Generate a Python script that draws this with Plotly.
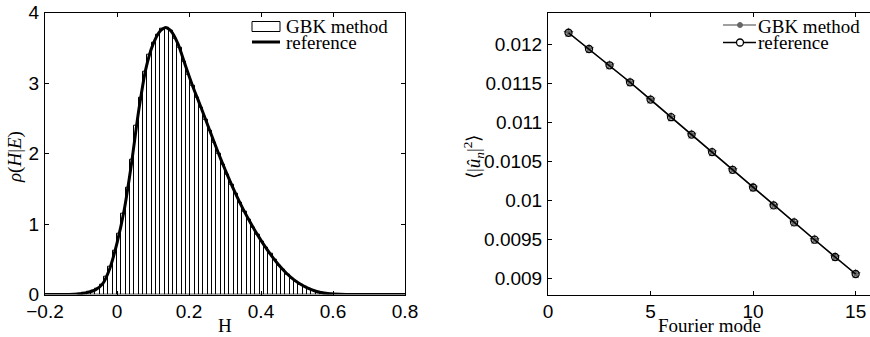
import plotly.graph_objects as go

# ---------- Left panel data ----------
bin_centers = [-0.102, -0.090, -0.078, -0.066, -0.054, -0.042, -0.030, -0.018, -0.006,
               0.006, 0.018, 0.030, 0.042, 0.054, 0.066, 0.078, 0.090, 0.102, 0.114,
               0.126, 0.138, 0.150, 0.162, 0.174, 0.186, 0.198, 0.210, 0.222, 0.234,
               0.246, 0.258, 0.270, 0.282, 0.294, 0.306, 0.318, 0.330, 0.342, 0.354,
               0.366, 0.378, 0.390, 0.402, 0.414, 0.426, 0.438, 0.450, 0.462, 0.474,
               0.486, 0.498, 0.510, 0.522, 0.534, 0.546, 0.558, 0.570, 0.582, 0.594]
bin_width = 0.012
gbk_density = [0.011, 0.02, 0.033, 0.05, 0.085, 0.14, 0.25, 0.40, 0.62,
               0.86, 1.15, 1.52, 1.92, 2.39, 2.80, 3.16, 3.40, 3.57, 3.69,
               3.77, 3.79, 3.74, 3.63, 3.50, 3.31, 3.12, 2.96, 2.80, 2.65,
               2.48, 2.32, 2.16, 2.00, 1.84, 1.70, 1.56, 1.425, 1.30, 1.18,
               1.06, 0.955, 0.85, 0.75, 0.66, 0.575, 0.49, 0.415, 0.35, 0.285,
               0.23, 0.185, 0.145, 0.11, 0.085, 0.06, 0.04, 0.025, 0.015, 0.01]

ref_H = [-0.20, -0.15, -0.12, -0.10, -0.08, -0.06, -0.04, -0.02, 0.00, 0.02, 0.04,
         0.06, 0.08, 0.10, 0.12, 0.135, 0.15, 0.17, 0.19, 0.21, 0.23, 0.25, 0.27,
         0.29, 0.31, 0.33, 0.35, 0.37, 0.39, 0.41, 0.43, 0.45, 0.47, 0.49, 0.51,
         0.53, 0.55, 0.57, 0.59, 0.62, 0.65, 0.80]
ref_density = [0.0, 0.0, 0.004, 0.012, 0.03, 0.065, 0.15, 0.37, 0.73, 1.2, 1.85,
               2.6, 3.2, 3.55, 3.74, 3.79, 3.74, 3.55, 3.25, 2.96, 2.70, 2.43, 2.16,
               1.90, 1.655, 1.425, 1.215, 1.025, 0.85, 0.69, 0.545, 0.415, 0.305,
               0.215, 0.145, 0.09, 0.05, 0.025, 0.01, 0.003, 0.0, 0.0]

# ---------- Right panel data ----------
modes = [1, 2, 3, 4, 5, 6, 7, 8, 9, 10, 11, 12, 13, 14, 15]
gbk_energy = [0.012144, 0.011936, 0.011728, 0.011511, 0.011290, 0.011065, 0.010843,
              0.010619, 0.010393, 0.010167, 0.009938, 0.009721, 0.009500, 0.009279,
              0.009062]
ref_energy = [0.012144, 0.011936, 0.011728, 0.011511, 0.011290, 0.011065, 0.010843,
              0.010619, 0.010393, 0.010167, 0.009938, 0.009721, 0.009500, 0.009279,
              0.009062]

left_xticks = [-0.2, 0, 0.2, 0.4, 0.6, 0.8]
left_yticks = [0, 1, 2, 3, 4]
right_xticks = [0, 5, 10, 15]
right_yticks = [0.009, 0.0095, 0.01, 0.0105, 0.011, 0.0115, 0.012]
right_yticktext = ["0.009", "0.0095", "0.01", "0.0105", "0.011", "0.0115", "0.012"]

W, H = 870, 337
SERIF = "Liberation Serif"
SANS = "Liberation Sans"

fig = go.Figure()

fig.add_trace(go.Bar(
    x=bin_centers, y=gbk_density, width=bin_width,
    marker=dict(color="white", line=dict(color="black", width=1)),
    xaxis="x", yaxis="y", showlegend=False, name="GBK method"))
fig.add_trace(go.Scatter(
    x=ref_H, y=ref_density, mode="lines",
    line=dict(color="black", width=3, shape="spline", smoothing=0.6),
    xaxis="x", yaxis="y", showlegend=False, name="reference"))

fig.add_trace(go.Scatter(
    x=modes, y=gbk_energy, mode="lines+markers",
    line=dict(color="#808080", width=1.5),
    marker=dict(symbol="star", size=8, color="#666666"),
    xaxis="x2", yaxis="y2", showlegend=False, name="GBK method"))
fig.add_trace(go.Scatter(
    x=modes, y=ref_energy, mode="lines+markers",
    line=dict(color="black", width=1.5),
    marker=dict(symbol="circle-open", size=7, color="black", line=dict(width=1.3)),
    xaxis="x2", yaxis="y2", showlegend=False, name="reference"))

ydom = [1 - 294.5 / H, 1 - 12.7 / H]
axis_common = dict(showline=True, linecolor="black", linewidth=1, ticks="inside",
                   ticklen=4, tickcolor="black", showgrid=False, zeroline=False,
                   automargin=False,
                   tickfont=dict(family=SANS, size=19, color="black"))

fig.update_layout(
    width=W, height=H, margin=dict(l=0, r=0, t=0, b=0),
    paper_bgcolor="white", plot_bgcolor="white", bargap=0,
    xaxis=dict(domain=[45 / W, 405 / W], range=[-0.2, 0.8], tickvals=left_xticks,
               mirror="ticks", anchor="y", ticklabelstandoff=0, **axis_common),
    yaxis=dict(domain=ydom, range=[0, 4], tickvals=left_yticks, mirror="ticks",
               anchor="x", ticklabelstandoff=1, **axis_common),
    xaxis2=dict(domain=[548 / W, 1.0], range=[0, 15.7], tickvals=right_xticks,
                mirror="ticks", anchor="y2", ticklabelstandoff=0, **axis_common),
    yaxis2=dict(domain=ydom, range=[0.0088, 0.0124], tickvals=right_yticks,
                ticktext=right_yticktext, mirror=False, anchor="x2",
                ticklabelstandoff=1, **axis_common),
)

def px(x):
    return x / W

def py(y):
    return 1 - y / H

title_font = dict(family=SERIF, size=19, color="black")
# axis titles
fig.add_annotation(text="H", x=px(225), y=0, xref="paper", yref="paper",
                   showarrow=False, xanchor="center", yanchor="bottom",
                   borderpad=0, font=title_font)
fig.add_annotation(text="Fourier mode", x=px(709), y=0, xref="paper",
                   yref="paper", showarrow=False, xanchor="center", yanchor="bottom",
                   borderpad=0, font=title_font)
fig.add_annotation(text="<i>ρ</i>(<i>H</i>|<i>E</i>)", x=px(15), y=py(157),
                   xref="paper", yref="paper", textangle=-90, showarrow=False,
                   xanchor="center", yanchor="middle", font=title_font)
fig.add_annotation(text="⟨|<i>û</i><sub><i>n</i></sub>|<sup>2</sup>⟩", x=px(473),
                   y=py(157), xref="paper", yref="paper", textangle=-90,
                   showarrow=False, xanchor="center", yanchor="middle",
                   font=title_font)

# ---------- manual legends ----------
legend_font = dict(family=SERIF, size=19, color="black")
# left legend
fig.add_shape(type="rect", xref="paper", yref="paper", x0=px(252), x1=px(280),
              y0=py(21.5), y1=py(31.5), line=dict(color="black", width=1),
              fillcolor="white")
fig.add_shape(type="line", xref="paper", yref="paper", x0=px(252), x1=px(280),
              y0=py(42), y1=py(42), line=dict(color="black", width=3))
fig.add_annotation(text="GBK method", x=px(284), y=py(26), xref="paper", yref="paper",
                   xanchor="left", yanchor="middle", showarrow=False, font=legend_font)
fig.add_annotation(text="reference", x=px(284), y=py(43), xref="paper", yref="paper",
                   xanchor="left", yanchor="middle", showarrow=False, font=legend_font)
# right legend
fig.add_shape(type="line", xref="paper", yref="paper", x0=px(723), x1=px(756),
              y0=py(25), y1=py(25), line=dict(color="#808080", width=1.5))
fig.add_shape(type="circle", xref="paper", yref="paper", xsizemode="pixel",
              ysizemode="pixel", xanchor=px(740), yanchor=py(25), x0=-2.5, x1=2.5,
              y0=-2.5, y1=2.5, line=dict(color="#666666", width=1), fillcolor="#666666")
fig.add_shape(type="line", xref="paper", yref="paper", x0=px(723), x1=px(756),
              y0=py(42.5), y1=py(42.5), line=dict(color="black", width=1.5))
fig.add_shape(type="circle", xref="paper", yref="paper", xsizemode="pixel",
              ysizemode="pixel", xanchor=px(740), yanchor=py(42.5), x0=-3.5, x1=3.5,
              y0=-3.5, y1=3.5, line=dict(color="black", width=1.3), fillcolor="white")
fig.add_annotation(text="GBK method", x=px(756), y=py(26), xref="paper", yref="paper",
                   xanchor="left", yanchor="middle", showarrow=False, font=legend_font)
fig.add_annotation(text="reference", x=px(756), y=py(43), xref="paper", yref="paper",
                   xanchor="left", yanchor="middle", showarrow=False, font=legend_font)

fig.write_html("out.html")
